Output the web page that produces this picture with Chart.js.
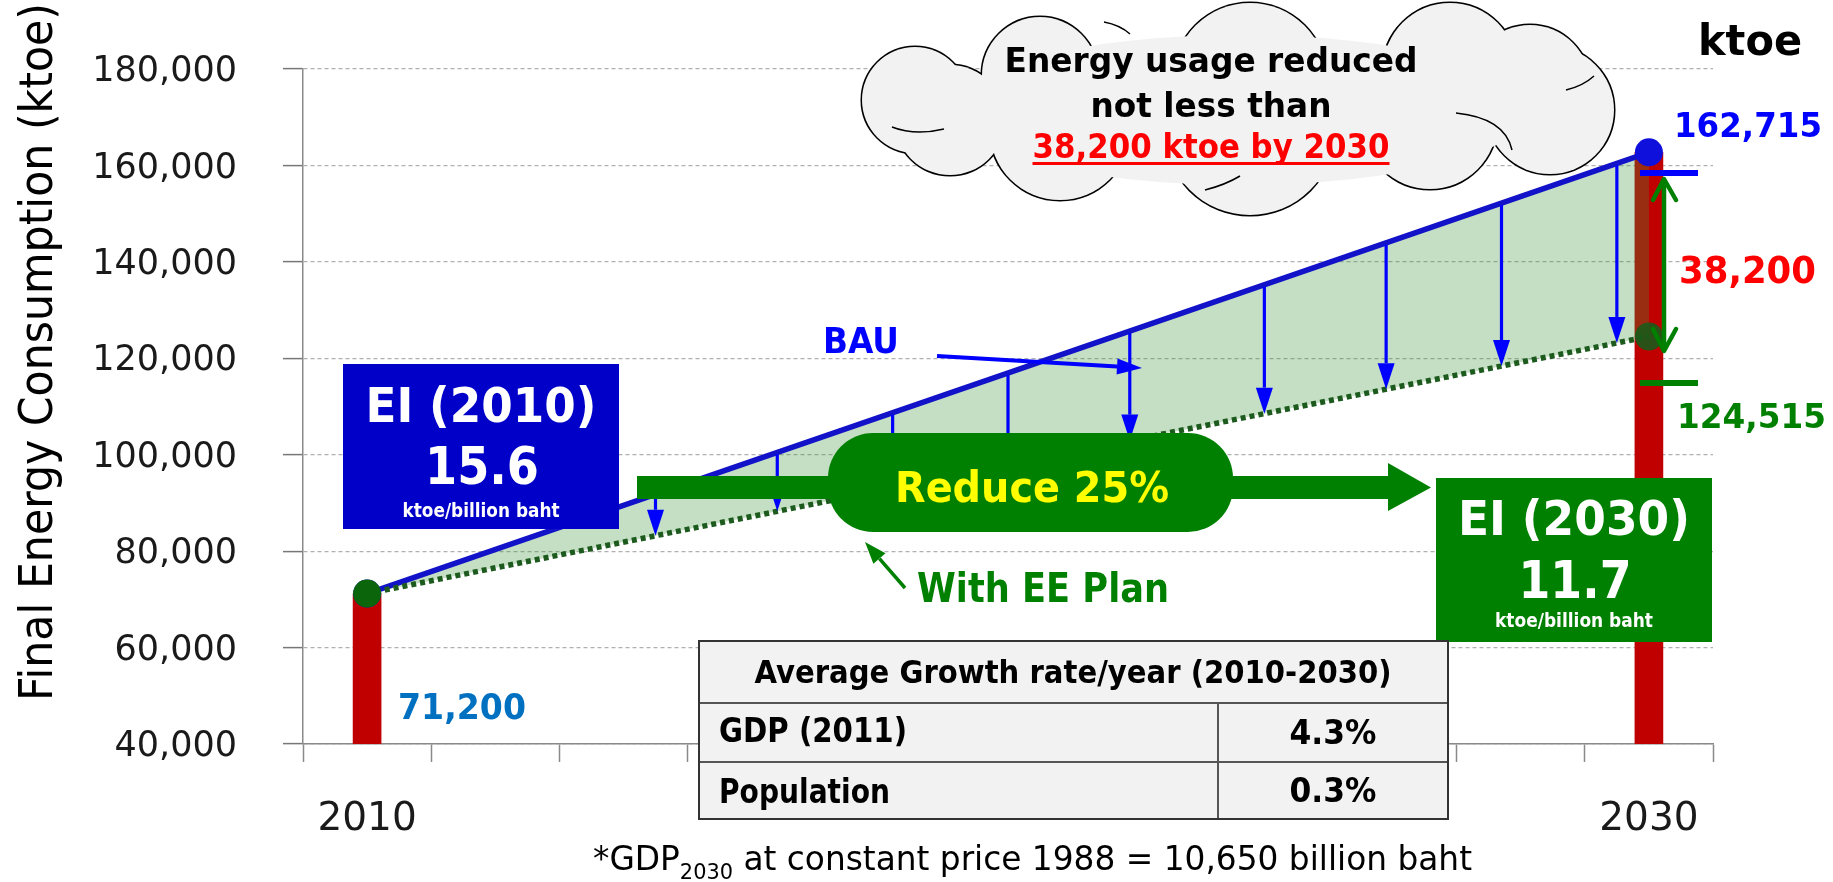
<!DOCTYPE html>
<html><head><meta charset="utf-8">
<script src="https://cdn.jsdelivr.net/npm/chart.js@4.4.1/dist/chart.umd.min.js"></script>
<style>html,body{margin:0;padding:0;background:#fff;overflow:hidden}canvas{display:block}</style>
</head><body>
<canvas id="c" width="1833" height="882"></canvas>
<script>
// ---------------- data ----------------
const categories = ['2010','2012','2014','2016','2018','2020','2022','2024','2026','2028','2030'];
const endYears = ['2010','2030'];
const finalConsumption = [71200, 162715];      // red bars (ktoe)
const bauValues = [71200, 162715];             // Business as usual
const eePlanValues = [71200, 124515];          // With EE Plan
const yMin = 40000, yMax = 180000, yStep = 20000;
const eiTitles = ['EI (2010)', 'EI (2030)'];
const eiValues = [15.6, 11.7];
const eiUnit = 'ktoe/billion baht';
const reductionArrowYears = [2014.5, 2016.4, 2018.2, 2020.0, 2021.9, 2024.0, 2025.9, 2027.7, 2029.5];
const growthHeader = 'Average Growth rate/year (2010-2030)';
const growthItems = ['GDP (2011)', 'Population'];
const growthRates = ['4.3%', '0.3%'];
const yTitle = 'Final Energy Consumption (ktoe)';
const unitLabel = 'ktoe';

const FAM = '"DejaVu Sans", sans-serif';
const fmt = v => v.toLocaleString('en-US');

function T(ctx, s, x, y, size, o) {
  o = o || {};
  ctx.save();
  ctx.font = (o.bold ? 'bold ' : '') + size + 'px ' + FAM;
  ctx.fillStyle = o.color || '#000';
  ctx.textBaseline = 'alphabetic';
  ctx.textAlign = 'left';
  const w = ctx.measureText(s).width;
  const W = o.w || w;
  const left = o.align === 'center' ? x - W / 2 : (o.align === 'right' ? x - W : x);
  ctx.translate(left, y);
  ctx.scale(W / w, 1);
  ctx.fillText(s, 0, 0);
  ctx.restore();
  return {left: left, right: left + W};
}
function arrow(ctx, x1, y1, x2, y2, color, lw, head, half) {
  const a = Math.atan2(y2 - y1, x2 - x1);
  const bx = x2 - head * Math.cos(a), by = y2 - head * Math.sin(a);
  ctx.save();
  ctx.strokeStyle = color; ctx.lineWidth = lw; ctx.lineCap = 'butt';
  ctx.beginPath(); ctx.moveTo(x1, y1); ctx.lineTo(bx, by); ctx.stroke();
  ctx.fillStyle = color;
  ctx.beginPath(); ctx.moveTo(x2, y2);
  ctx.lineTo(bx + half * Math.sin(a), by - half * Math.cos(a));
  ctx.lineTo(bx - half * Math.sin(a), by + half * Math.cos(a));
  ctx.closePath(); ctx.fill();
  ctx.restore();
}
function rrect(ctx, x, y, w, h, r) {
  ctx.beginPath();
  ctx.moveTo(x + r, y); ctx.lineTo(x + w - r, y); ctx.arcTo(x + w, y, x + w, y + r, r);
  ctx.lineTo(x + w, y + h - r); ctx.arcTo(x + w, y + h, x + w - r, y + h, r);
  ctx.lineTo(x + r, y + h); ctx.arcTo(x, y + h, x, y + h - r, r);
  ctx.lineTo(x, y + r); ctx.arcTo(x, y, x + r, y, r); ctx.closePath();
}
function cloud(ctx) {
  const lobes = [[915,100,53],[1040,75,58],[1250,80,77],[1450,70,67],[1530,85,60],[1550,110,64],
                 [1430,122,67],[1250,130,85],[1060,130,70],[950,120,55]];
  ctx.save();
  ctx.strokeStyle = '#000'; ctx.lineWidth = 3;
  lobes.forEach(l => { ctx.beginPath(); ctx.arc(l[0], l[1], l[2], 0, Math.PI * 2); ctx.stroke(); });
  ctx.fillStyle = '#f2f2f2';
  lobes.forEach(l => { ctx.beginPath(); ctx.arc(l[0], l[1], l[2], 0, Math.PI * 2); ctx.fill(); });
  ctx.beginPath(); ctx.ellipse(1240, 110, 290, 75, 0, 0, Math.PI * 2); ctx.fill();
  ctx.lineWidth = 1.5; ctx.strokeStyle = '#000';
  const creases = [[1456,113,1505,118,1512,150],[1566,90,1583,86,1594,76],[892,127,915,136,944,129],[1104,22,1120,25,1130,34],[1205,190,1225,185,1240,176]];
  creases.forEach(c => { ctx.beginPath(); ctx.moveTo(c[0], c[1]); ctx.quadraticCurveTo(c[2], c[3], c[4], c[5]); ctx.stroke(); });
  ctx.restore();
}

const annot = {
  id: 'annot',
  afterDraw(chart) {
    const ctx = chart.ctx, xs = chart.scales.x, ys = chart.scales.y;
    const xA = xs.getPixelForValue(categories.indexOf(endYears[0]));
    const xB = xs.getPixelForValue(categories.indexOf(endYears[1]));
    const yr0 = +endYears[0], yr1 = +endYears[1];
    const bauA = ys.getPixelForValue(bauValues[0]), bauB = ys.getPixelForValue(bauValues[1]);
    const eeA = ys.getPixelForValue(eePlanValues[0]), eeB = ys.getPixelForValue(eePlanValues[1]);

    // reduction arrows between BAU and EE lines
    reductionArrowYears.forEach(yr => {
      const t = (yr - yr0) / (yr1 - yr0);
      const x = xA + t * (xB - xA);
      arrow(ctx, x, bauA + t * (bauB - bauA) + 2, x, eeA + t * (eeB - eeA), '#0000ff', 3.2, 26, 8.5);
    });

    // BAU label + pointer
    T(ctx, 'BAU', 823, 353, 36, {bold: true, color: '#0000ff', w: 76});
    arrow(ctx, 937, 356, 1142, 368, '#0000ff', 4, 25, 8);

    // Reduce arrow
    ctx.save();
    ctx.fillStyle = '#008000';
    ctx.beginPath();
    ctx.moveTo(637, 476); ctx.lineTo(1388, 476); ctx.lineTo(1388, 463); ctx.lineTo(1431, 487.5);
    ctx.lineTo(1388, 511); ctx.lineTo(1388, 499); ctx.lineTo(637, 499); ctx.closePath(); ctx.fill();
    rrect(ctx, 828, 433, 405, 99, 45); ctx.fill();
    ctx.restore();
    const red = Math.round((eiValues[0] - eiValues[1]) / eiValues[0] * 100);
    T(ctx, 'Reduce ' + red + '%', 895, 502, 42, {bold: true, color: '#ffff00', w: 274});

    // With EE Plan
    T(ctx, 'With EE Plan', 917, 602, 40, {bold: true, color: '#008000', w: 252});
    arrow(ctx, 905, 588, 865, 542, '#008000', 3.5, 22, 8);

    // EI boxes
    ctx.save();
    ctx.fillStyle = '#0000c8'; ctx.fillRect(343, 364, 276, 165);
    ctx.fillStyle = '#008000'; ctx.fillRect(1436, 478, 276, 164);
    ctx.restore();
    T(ctx, eiTitles[0], 481, 422, 48, {bold: true, color: '#fff', align: 'center', w: 231});
    T(ctx, eiValues[0].toFixed(1), 482, 484, 52, {bold: true, color: '#fff', align: 'center', w: 114});
    T(ctx, eiUnit, 481, 517, 19, {bold: true, color: '#fff', align: 'center', w: 157});
    T(ctx, eiTitles[1], 1574, 535, 48, {bold: true, color: '#fff', align: 'center', w: 232});
    T(ctx, eiValues[1].toFixed(1), 1575, 598, 52, {bold: true, color: '#fff', align: 'center', w: 113});
    T(ctx, eiUnit, 1574, 627, 19, {bold: true, color: '#fff', align: 'center', w: 158});

    // right side markers
    ctx.save();
    ctx.lineWidth = 6;
    ctx.strokeStyle = '#0000ff'; ctx.beginPath(); ctx.moveTo(1640, 173); ctx.lineTo(1698, 173); ctx.stroke();
    ctx.strokeStyle = '#008000'; ctx.beginPath(); ctx.moveTo(1640, 383); ctx.lineTo(1698, 383); ctx.stroke();
    ctx.lineWidth = 4.5; ctx.lineCap = 'round'; ctx.lineJoin = 'round';
    ctx.beginPath(); ctx.moveTo(1664, 180); ctx.lineTo(1664, 350); ctx.stroke();
    ctx.beginPath(); ctx.moveTo(1653, 200); ctx.lineTo(1664, 179); ctx.lineTo(1676, 200); ctx.stroke();
    ctx.beginPath(); ctx.moveTo(1653, 329); ctx.lineTo(1664, 351); ctx.lineTo(1676, 329); ctx.stroke();
    ctx.restore();

    // value labels
    const saved = bauValues[1] - eePlanValues[1];
    T(ctx, unitLabel, 1750, 55, 42, {bold: true, align: 'center', w: 104});
    T(ctx, fmt(bauValues[1]), 1674, 137, 33, {bold: true, color: '#0000ff', w: 148});
    T(ctx, fmt(saved), 1679, 283, 37, {bold: true, color: '#ff0000', w: 137});
    T(ctx, fmt(eePlanValues[1]), 1677, 428, 33, {bold: true, color: '#008000', w: 149});
    T(ctx, fmt(finalConsumption[0]), 398, 719, 35, {bold: true, color: '#0070c0', w: 128});

    // cloud
    cloud(ctx);
    T(ctx, 'Energy usage reduced', 1211, 72, 34, {bold: true, align: 'center', w: 413});
    T(ctx, 'not less than', 1211, 117, 34, {bold: true, align: 'center', w: 241});
    const r = T(ctx, fmt(saved) + ' ktoe by ' + endYears[1], 1211, 158, 34, {bold: true, color: '#ff0000', align: 'center', w: 357});
    ctx.save(); ctx.fillStyle = '#ff0000'; ctx.fillRect(r.left, 162, r.right - r.left, 3); ctx.restore();

    // growth table
    ctx.save();
    ctx.fillStyle = '#f2f2f2'; ctx.fillRect(699, 641, 749, 178);
    ctx.strokeStyle = '#555'; ctx.lineWidth = 2;
    ctx.beginPath(); ctx.moveTo(699, 703); ctx.lineTo(1448, 703); ctx.moveTo(699, 762); ctx.lineTo(1448, 762);
    ctx.moveTo(1218, 703); ctx.lineTo(1218, 819); ctx.stroke();
    ctx.strokeStyle = '#333'; ctx.strokeRect(699, 641, 749, 178);
    ctx.restore();
    T(ctx, growthHeader, 1073, 683, 32, {bold: true, align: 'center', w: 637});
    T(ctx, growthItems[0], 719, 742, 33, {bold: true, w: 188});
    T(ctx, growthItems[1], 719, 803, 33, {bold: true, w: 171});
    T(ctx, growthRates[0], 1333, 744, 33, {bold: true, align: 'center', w: 87});
    T(ctx, growthRates[1], 1333, 802, 33, {bold: true, align: 'center', w: 87});

    // footnote
    ctx.save();
    ctx.fillStyle = '#000'; ctx.textBaseline = 'alphabetic';
    const parts = [['*GDP', 33, 0], ['2030', 21, 9], [' at constant price 1988 = 10,650 billion baht', 33, 0]];
    let tot = 0;
    parts.forEach(p => { ctx.font = p[1] + 'px ' + FAM; p.push(ctx.measureText(p[0]).width); tot += p[3]; });
    ctx.translate(593, 870); ctx.scale(879 / tot, 1);
    let cx = 0;
    parts.forEach(p => { ctx.font = p[1] + 'px ' + FAM; ctx.fillText(p[0], cx, p[2]); cx += p[3]; });
    ctx.restore();

    // y axis title
    ctx.save();
    ctx.translate(52, 352); ctx.rotate(-Math.PI / 2);
    ctx.font = '46px ' + FAM; ctx.fillStyle = '#000';
    const tw = ctx.measureText(yTitle).width;
    ctx.scale(698 / tw, 1);
    ctx.textAlign = 'center'; ctx.fillText(yTitle, 0, 0);
    ctx.restore();
  }
};

new Chart(document.getElementById('c'), {
  type: 'bar',
  data: {
    labels: categories,
    datasets: [
      { type: 'line', label: 'With EE Plan', data: endYears.map((y, i) => ({x: y, y: eePlanValues[i]})),
        borderColor: '#1d5a1d', borderWidth: 5.5, borderDash: [5, 4], borderCapStyle: 'butt',
        pointRadius: 14, pointBorderWidth: 0, pointBackgroundColor: ['#0b660b', 'rgba(25,90,25,0.9)'],
        fill: false, order: 1, tension: 0 },
      { type: 'line', label: 'BAU', data: endYears.map((y, i) => ({x: y, y: bauValues[i]})),
        borderColor: '#1212c8', borderWidth: 5.5, pointRadius: 14, pointBorderWidth: 0,
        pointBackgroundColor: '#1010dd', fill: {target: 0}, backgroundColor: 'rgba(60,150,60,0.3)', order: 2, tension: 0 },
      { type: 'bar', label: 'Final energy consumption', data: endYears.map((y, i) => ({x: y, y: finalConsumption[i]})),
        backgroundColor: '#c00000', barThickness: 28, order: 3 }
    ]
  },
  options: {
    responsive: false, animation: false, events: [],
    layout: {padding: {left: 0, right: 120, top: 69, bottom: 0}},
    plugins: {legend: {display: false}, tooltip: {enabled: false}},
    scales: {
      x: {
        type: 'category', offset: true,
        grid: {display: true, drawOnChartArea: false, drawTicks: true, tickLength: 18, tickColor: '#8a8a8a', tickWidth: 1.5, offset: true},
        border: {display: true, color: '#8a8a8a', width: 1.5},
        ticks: {autoSkip: false, maxRotation: 0, padding: 34, color: '#1a1a1a', font: {family: FAM, size: 39},
                callback: (v, i) => endYears.includes(categories[i]) ? categories[i] : ''},
        afterFit: s => { s.height = 138; }
      },
      y: {
        min: yMin, max: yMax,
        ticks: {stepSize: yStep, padding: 46, labelOffset: 3, color: '#1a1a1a', font: {family: FAM, size: 35}, callback: v => fmt(v)},
        grid: {color: '#b0b0b0', lineWidth: 1.2, drawTicks: true, tickLength: 20, tickColor: '#777', tickWidth: 1.5, tickBorderDash: []},
        border: {display: true, color: '#8a8a8a', width: 1.5, dash: [4, 3]},
        afterFit: s => { s.width = 303; }
      }
    }
  },
  plugins: [annot]
});
</script>
</body></html>
